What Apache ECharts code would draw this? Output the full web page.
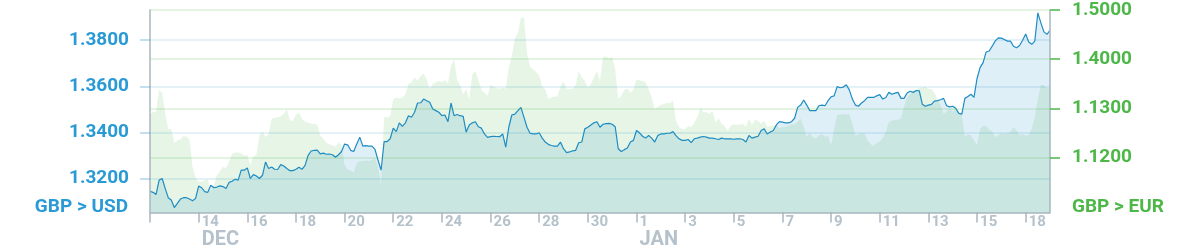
<!DOCTYPE html>
<html>
<head>
<meta charset="utf-8">
<script src="https://cdn.jsdelivr.net/npm/echarts@6/dist/echarts.min.js"></script>
<style>
html,body{margin:0;padding:0;background:#fff;}
#chart{width:1200px;height:250px;}
</style>
</head>
<body>
<div id="chart"></div>
<script>
// x-axis tick labels (one per tick) and month captions below them
const tickLabels = ['', '14', '16', '18', '20', '22', '24', '26', '28', '30', '1', '3', '5', '7', '9', '11', '13', '15', '18'];
const monthLabels = ['', 'DEC', '', '', '', '', '', '', '', '', 'JAN', '', '', '', '', '', '', '', ''];
const pointsPerTick = 16;

// y-axis tick values and labels
const usdTicks = [1.32, 1.34, 1.36, 1.38];
const usdTickLabels = ['1.3200', '1.3400', '1.3600', '1.3800'];
const eurTicks = [1.12, 1.13, 1.14, 1.15];
const eurTickLabels = ['1.1200', '1.1300', '1.4000', '1.5000'];

// GBP > USD
const usd = [
1.3146,1.3141,1.3132,1.3194,1.3201,1.3158,1.3118,1.3108,1.3075,1.3093,1.3112,1.3118,1.3118,1.3112,1.3105,1.3115,1.3168,1.3161,1.3144,1.3141,
1.3172,1.3161,1.3164,1.3169,1.3166,1.3158,1.3184,1.3189,1.3198,1.3194,1.3237,1.3237,1.3247,1.3201,1.3218,1.3212,1.3201,1.3215,1.3273,1.3244,
1.3251,1.3241,1.3240,1.3261,1.3255,1.3244,1.3235,1.3235,1.3241,1.3250,1.3241,1.3258,1.3301,1.3320,1.3323,1.3324,1.3308,1.3311,1.3306,1.3307,
1.3304,1.3293,1.3304,1.3318,1.3350,1.3347,1.3323,1.3318,1.3350,1.3380,1.3341,1.3343,1.3341,1.3341,1.3327,1.3280,1.3237,1.3361,1.3361,1.3373,
1.3419,1.3404,1.3442,1.3427,1.3442,1.3473,1.3466,1.3488,1.3528,1.3529,1.3545,1.3538,1.3531,1.3502,1.3495,1.3488,1.3473,1.3476,1.3447,1.3528,
1.3473,1.3478,1.3473,1.3470,1.3402,1.3433,1.3442,1.3447,1.3425,1.3419,1.3394,1.3379,1.3382,1.3384,1.3383,1.3382,1.3394,1.3337,1.3423,1.3476,
1.3480,1.3495,1.3509,1.3466,1.3423,1.3397,1.3394,1.3394,1.3399,1.3376,1.3359,1.3349,1.3344,1.3341,1.3341,1.3359,1.3330,1.3313,1.3316,1.3321,
1.3323,1.3356,1.3359,1.3416,1.3423,1.3433,1.3442,1.3447,1.3423,1.3436,1.3439,1.3440,1.3436,1.3425,1.3330,1.3318,1.3326,1.3333,1.3359,1.3366,
1.3409,1.3399,1.3384,1.3376,1.3387,1.3376,1.3359,1.3387,1.3394,1.3394,1.3397,1.3397,1.3404,1.3387,1.3373,1.3366,1.3366,1.3370,1.3356,1.3373,
1.3376,1.3380,1.3383,1.3380,1.3376,1.3376,1.3373,1.3370,1.3376,1.3373,1.3373,1.3373,1.3371,1.3373,1.3373,1.3370,1.3359,1.3387,1.3376,1.3380,
1.3384,1.3409,1.3416,1.3394,1.3402,1.3409,1.3433,1.3447,1.3445,1.3442,1.3442,1.3447,1.3462,1.3509,1.3519,1.3541,1.3519,1.3495,1.3495,1.3495,
1.3516,1.3519,1.3516,1.3538,1.3555,1.3559,1.3599,1.3594,1.3597,1.3607,1.3585,1.3545,1.3519,1.3514,1.3528,1.3538,1.3552,1.3552,1.3552,1.3559,
1.3564,1.3545,1.3552,1.3574,1.3566,1.3571,1.3574,1.3548,1.3548,1.3571,1.3579,1.3574,1.3582,1.3581,1.3523,1.3514,1.3519,1.3522,1.3536,1.3538,
1.3542,1.3548,1.3516,1.3511,1.3514,1.3505,1.3483,1.3480,1.3548,1.3556,1.3566,1.3552,1.3634,1.3681,1.3703,1.3749,1.3753,1.3774,1.3797,1.3810,
1.3809,1.3803,1.3796,1.3796,1.3774,1.3767,1.3777,1.3800,1.3827,1.3792,1.3782,1.3796,1.3918,1.3875,1.3836,1.3825,1.3843
];

// GBP > EUR
const eur = [
1.1289,1.1292,1.1293,1.1338,1.1331,1.1289,1.1258,1.1258,1.1230,1.1235,1.1237,1.1244,1.1243,1.1237,1.1181,1.1159,1.1151,1.1151,1.1154,1.1156,
1.1131,1.1144,1.1164,1.1172,1.1181,1.1179,1.1191,1.1208,1.1210,1.1211,1.1208,1.1205,1.1205,1.1185,1.1203,1.1205,1.1245,1.1253,1.1242,1.1248,
1.1279,1.1281,1.1282,1.1284,1.1289,1.1299,1.1275,1.1275,1.1287,1.1291,1.1279,1.1273,1.1271,1.1269,1.1269,1.1267,1.1245,1.1238,1.1230,1.1227,
1.1225,1.1222,1.1230,1.1226,1.1185,1.1176,1.1174,1.1170,1.1188,1.1193,1.1193,1.1194,1.1193,1.1195,1.1199,1.1181,1.1144,1.1282,1.1282,1.1284,
1.1318,1.1322,1.1320,1.1322,1.1329,1.1349,1.1353,1.1363,1.1356,1.1366,1.1371,1.1359,1.1339,1.1349,1.1353,1.1356,1.1353,1.1358,1.1351,1.1386,
1.1400,1.1358,1.1347,1.1329,1.1339,1.1319,1.1369,1.1376,1.1358,1.1338,1.1332,1.1326,1.1348,1.1344,1.1341,1.1340,1.1342,1.1340,1.1383,1.1406,
1.1443,1.1453,1.1484,1.1484,1.1413,1.1384,1.1379,1.1374,1.1367,1.1344,1.1339,1.1319,1.1322,1.1324,1.1324,1.1344,1.1354,1.1340,1.1339,1.1340,
1.1347,1.1376,1.1363,1.1356,1.1342,1.1349,1.1363,1.1376,1.1356,1.1404,1.1406,1.1401,1.1405,1.1379,1.1319,1.1326,1.1338,1.1340,1.1332,1.1339,
1.1359,1.1358,1.1355,1.1353,1.1339,1.1322,1.1299,1.1304,1.1307,1.1309,1.1311,1.1311,1.1316,1.1275,1.1262,1.1258,1.1258,1.1264,1.1262,1.1271,
1.1282,1.1302,1.1292,1.1292,1.1289,1.1295,1.1272,1.1280,1.1269,1.1264,1.1255,1.1265,1.1268,1.1267,1.1267,1.1269,1.1263,1.1279,1.1267,1.1277,
1.1275,1.1269,1.1275,1.1262,1.1265,1.1265,1.1267,1.1259,1.1262,1.1262,1.1265,1.1268,1.1267,1.1273,1.1279,1.1262,1.1242,1.1250,1.1241,1.1239,
1.1245,1.1248,1.1242,1.1245,1.1225,1.1258,1.1287,1.1287,1.1289,1.1287,1.1289,1.1269,1.1245,1.1247,1.1250,1.1249,1.1235,1.1227,1.1224,1.1230,
1.1233,1.1240,1.1252,1.1272,1.1275,1.1277,1.1277,1.1280,1.1304,1.1322,1.1329,1.1334,1.1339,1.1342,1.1342,1.1344,1.1340,1.1339,1.1332,1.1319,
1.1307,1.1289,1.1294,1.1300,1.1293,1.1302,1.1293,1.1285,1.1242,1.1247,1.1245,1.1235,1.1226,1.1258,1.1265,1.1265,1.1256,1.1253,1.1242,1.1245,
1.1250,1.1248,1.1250,1.1252,1.1262,1.1255,1.1246,1.1248,1.1245,1.1246,1.1258,1.1282,1.1319,1.1348,1.1347,1.1340,1.1342
];

const categories = usd.map((_, i) => 'p' + i);

const BLUE = '#1e8cc3';
const GREEN = '#4cb848';
const FONT = 'Roboto, "DejaVu Sans", sans-serif';

const usdLabelMap = {};
usdTicks.forEach((v, i) => { usdLabelMap[v.toFixed(2)] = usdTickLabels[i]; });
const eurLabelMap = {};
eurTicks.forEach((v, i) => { eurLabelMap[v.toFixed(2)] = eurTickLabels[i]; });

const chart = echarts.init(document.getElementById('chart'), null, {renderer: 'canvas'});
chart.setOption({
  animation: false,
  backgroundColor: '#ffffff',
  grid: {left: 150, right: 150, top: 10, height: 204, containLabel: false},
  xAxis: {
    type: 'category',
    data: categories,
    boundaryGap: false,
    axisLine: {show: true, lineStyle: {color: '#a9b6bf', width: 1.5}},
    axisTick: {
      show: true, length: 10,
      interval: (idx) => idx % pointsPerTick === 0,
      lineStyle: {color: '#a9b6bf', width: 1.5}
    },
    axisLabel: {
      interval: (idx) => idx % pointsPerTick === 0,
      align: 'left',
      margin: 1,
      padding: [0, 0, 0, 3],
      formatter: (val, idx) => {
        const k = idx / pointsPerTick;
        const d = tickLabels[k] || '';
        const m = monthLabels[k] || '';
        if (!d) return '';
        return m ? '{d|' + d + '}\n{m|' + m + '}' : '{d|' + d + '}';
      },
      rich: {
        d: {fontFamily: FONT, fontWeight: 'bold', fontSize: 15, lineHeight: 17, color: '#b5c2cb'},
        m: {fontFamily: FONT, fontWeight: 'bold', fontSize: 20, lineHeight: 19, color: '#b5c2cb'}
      }
    },
    splitLine: {show: false}
  },
  yAxis: [
    {
      type: 'value',
      position: 'left',
      min: 1.30538,
      max: 1.39307,
      z: 3,
      axisLine: {show: true, lineStyle: {color: '#a9b6bf', width: 1.5}},
      axisTick: {show: true, length: 10, customValues: usdTicks, lineStyle: {color: 'rgba(30,140,195,0.35)', width: 1.5}},
      axisLabel: {
        customValues: usdTicks,
        margin: 21,
        fontFamily: FONT, fontWeight: 'bold', fontSize: 19, color: '#2a9ad6',
        formatter: (v) => usdLabelMap[v.toFixed(2)] || ''
      },
      splitLine: {show: true, lineStyle: {color: 'rgba(30,140,195,0.16)', width: 1.5}}
    },
    {
      type: 'value',
      position: 'right',
      min: 1.10885,
      max: 1.15,
      z: 3,
      axisLine: {show: true, lineStyle: {color: '#a9b6bf', width: 1.5}},
      axisTick: {show: true, length: 10, customValues: eurTicks, lineStyle: {color: GREEN, width: 1.5}},
      axisLabel: {
        customValues: eurTicks,
        margin: 22,
        fontFamily: FONT, fontWeight: 'bold', fontSize: 19, color: '#4db848',
        formatter: (v) => eurLabelMap[v.toFixed(2)] || ''
      },
      splitLine: {show: true, lineStyle: {color: 'rgba(76,184,72,0.2)', width: 1.5}}
    }
  ],
  series: [
    {
      name: 'GBP > EUR',
      type: 'line',
      yAxisIndex: 1,
      data: eur,
      showSymbol: false,
      lineStyle: {width: 0, opacity: 0},
      areaStyle: {color: 'rgba(76,184,72,0.2)'},
      z: 1
    },
    {
      name: 'GBP > USD',
      type: 'line',
      yAxisIndex: 0,
      data: usd,
      showSymbol: false,
      lineStyle: {width: 1.2, color: BLUE},
      areaStyle: {color: 'rgba(30,140,195,0.2)'},
      z: 2
    }
  ],
  graphic: [
    {
      type: 'text', right: 1200 - 128, top: 198,
      style: {text: 'GBP > USD', fontFamily: FONT, fontWeight: 'bold', fontSize: 19, fill: '#2a9ad6'}
    },
    {
      type: 'text', left: 1072, top: 198,
      style: {text: 'GBP > EUR', fontFamily: FONT, fontWeight: 'bold', fontSize: 19, fill: '#4db848'}
    }
  ]
});
</script>
</body>
</html>
